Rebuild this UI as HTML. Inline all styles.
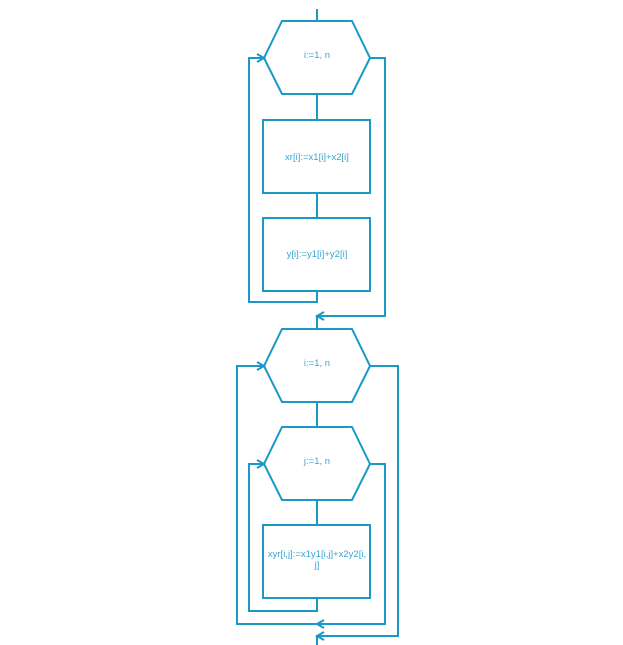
<!DOCTYPE html>
<html><head><meta charset="utf-8"><style>
html,body{margin:0;padding:0;background:#fff;width:623px;height:645px;overflow:hidden}
svg text{font-family:"Liberation Sans",sans-serif;font-size:9.5px;fill:#3aa6d0;text-anchor:middle}
</style></head><body>
<svg width="623" height="645" viewBox="0 0 623 645" xmlns="http://www.w3.org/2000/svg">
<g fill="none" stroke="#1a98c6" stroke-width="2">
<line x1="317" y1="9" x2="317" y2="21"/>
<polygon points="282,21 352,21 370,58 352,94 282,94 264,58"/>
<line x1="317" y1="94" x2="317" y2="120"/>
<rect x="263" y="120" width="107" height="73"/>
<line x1="317" y1="193" x2="317" y2="218"/>
<rect x="263" y="218" width="107" height="73"/>
<polyline points="317,291 317,302 249,302 249,58 264,58"/>
<polyline points="257,54 264,58 257,62"/>
<polyline points="370,58 385,58 385,316 317,316 317,329"/>
<polyline points="324,312 317,316 324,320"/>
<polygon points="282,329 352,329 370,366 352,402 282,402 264,366"/>
<line x1="317" y1="402" x2="317" y2="427"/>
<polygon points="282,427 352,427 370,464 352,500 282,500 264,464"/>
<line x1="317" y1="500" x2="317" y2="525"/>
<rect x="263" y="525" width="107" height="73"/>
<polyline points="317,598 317,611 249,611 249,464 264,464"/>
<polyline points="257,460 264,464 257,468"/>
<polyline points="370,464 385,464 385,624 237,624 237,366 264,366"/>
<polyline points="257,362 264,366 257,370"/>
<polyline points="324,620 317,624 324,628"/>
<polyline points="370,366 398,366 398,636 317,636 317,645"/>
<polyline points="324,632 317,636 324,640"/>
</g>
<text x="317" y="58">i:=1, n</text>
<text x="317" y="160">xr[i]:=x1[i]+x2[i]</text>
<text x="317" y="257">y[i]:=y1[i]+y2[i]</text>
<text x="317" y="366">i:=1, n</text>
<text x="317" y="464">j:=1, n</text>
<text x="317" y="557">xyr[i,j]:=x1y1[i,j]+x2y2[i,</text>
<text x="317" y="568">j]</text>
</svg>
</body></html>
